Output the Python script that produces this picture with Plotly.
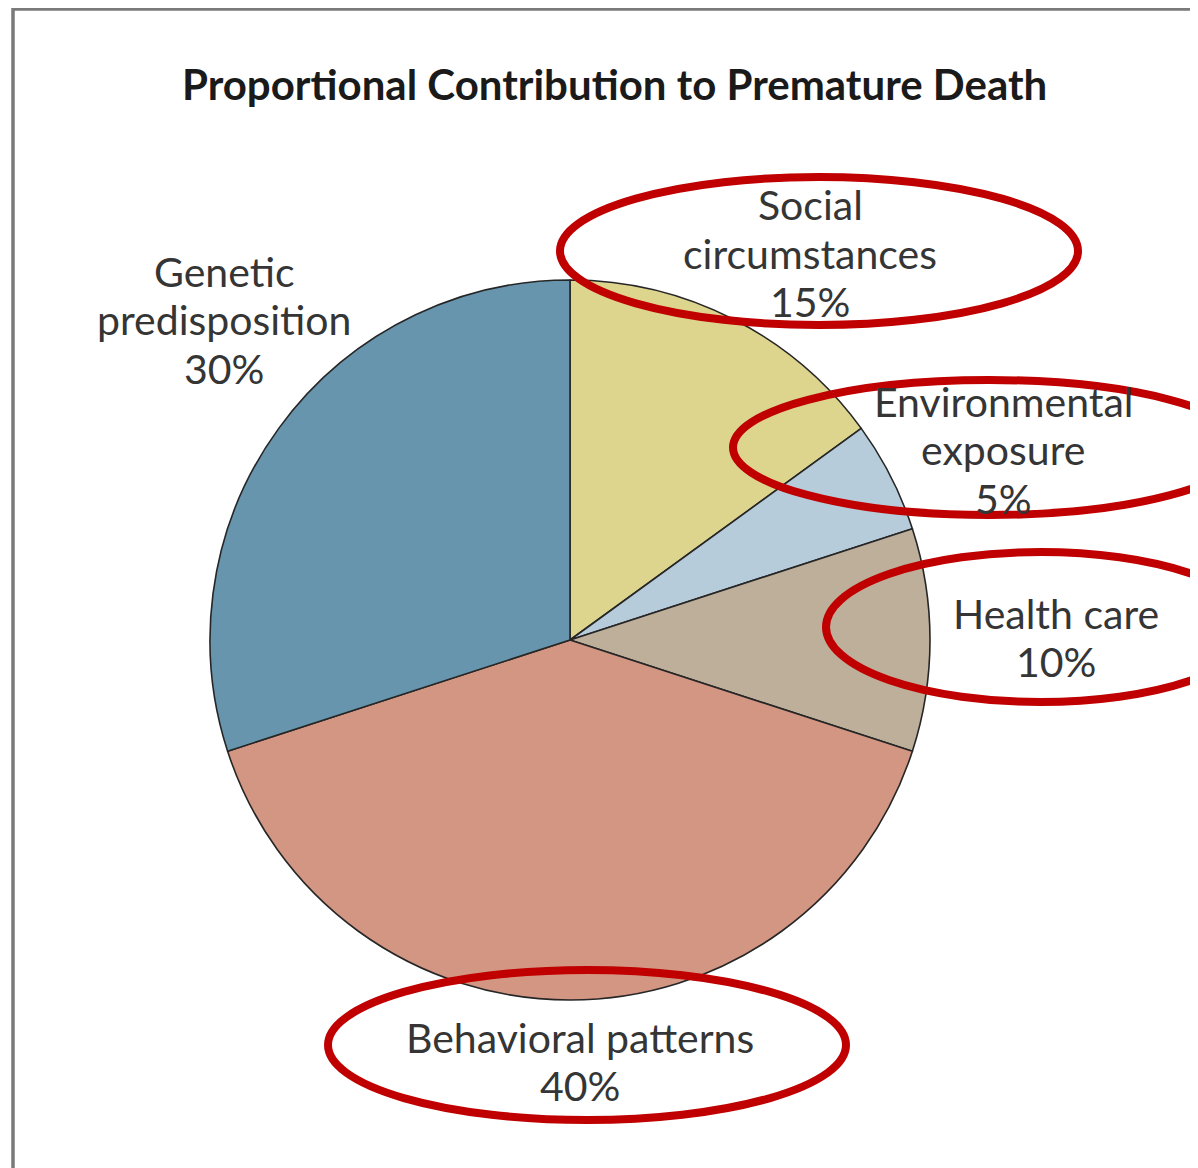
import plotly.graph_objects as go

W, H = 1198, 1168
OFF = 8  # page body margin

categories = ["Social circumstances", "Environmental exposure", "Health care",
              "Behavioral patterns", "Genetic predisposition"]
values = [15, 5, 10, 40, 30]
colors = ["#DDD48D", "#B7CCDA", "#BEAF9A", "#D39683", "#6795AE"]
label_lines = [["Social", "circumstances"], ["Environmental", "exposure"],
               ["Health care"], ["Behavioral patterns"], ["Genetic", "predisposition"]]

# label centre x and first-line y (pixels)
label_pos = [(810, 205), (1003, 401), (1056, 613), (580, 1037), (224, 271)]
LINE_H = 48.5
# highlighted ellipses (pixel boxes)
ellipses = [(560, 177, 1078, 325), (733, 380, 1245, 515), (826, 552, 1255, 702), (328, 970, 846, 1120)]

def px(x):
    return (x - OFF) / W

def py(y):
    return 1 - (y - OFF) / H

cx, cy, r = 570, 640, 360

fig = go.Figure(go.Pie(
    labels=categories, values=values, sort=False, direction="clockwise", rotation=0,
    marker=dict(colors=colors, line=dict(color="#262626", width=1.6)),
    textinfo="none", hoverinfo="label+percent", showlegend=False,
    domain=dict(x=[px(cx - r), px(cx + r)], y=[py(cy + r), py(cy - r)]),
))

font_lab = dict(family="Lato, Open Sans, sans-serif", size=41, color="#353535")
annotations = []
for lines, v, (x, y) in zip(label_lines, values, label_pos):
    for i, line in enumerate(lines + [f"{v}%"]):
        annotations.append(dict(x=px(x), y=py(y + i * LINE_H), xref="paper", yref="paper", text=line,
                                showarrow=False, font=font_lab, xanchor="center", yanchor="middle"))
annotations.append(dict(x=px(614), y=py(84), xref="paper", yref="paper",
                        text="<b>Proportional Contribution to Premature Death</b>",
                        showarrow=False, xanchor="center", yanchor="middle",
                        font=dict(family="Lato, Open Sans, sans-serif", size=42, color="#1a1a1a")))

shapes = [dict(type="rect", xref="paper", yref="paper", x0=px(13), y0=py(9), x1=px(1400), y1=py(1400),
               line=dict(color="#7a7a7a", width=3.5), layer="below")]
for (x0, y0, x1, y1) in ellipses:
    shapes.append(dict(type="circle", xref="paper", yref="paper", x0=px(x0), x1=px(x1),
                       y0=py(y1), y1=py(y0), line=dict(color="#C00000", width=8)))

fig.update_layout(width=W, height=H, margin=dict(l=0, r=0, t=0, b=0),
                  paper_bgcolor="white", plot_bgcolor="white",
                  annotations=annotations, shapes=shapes)

fig.write_html("out.html")
